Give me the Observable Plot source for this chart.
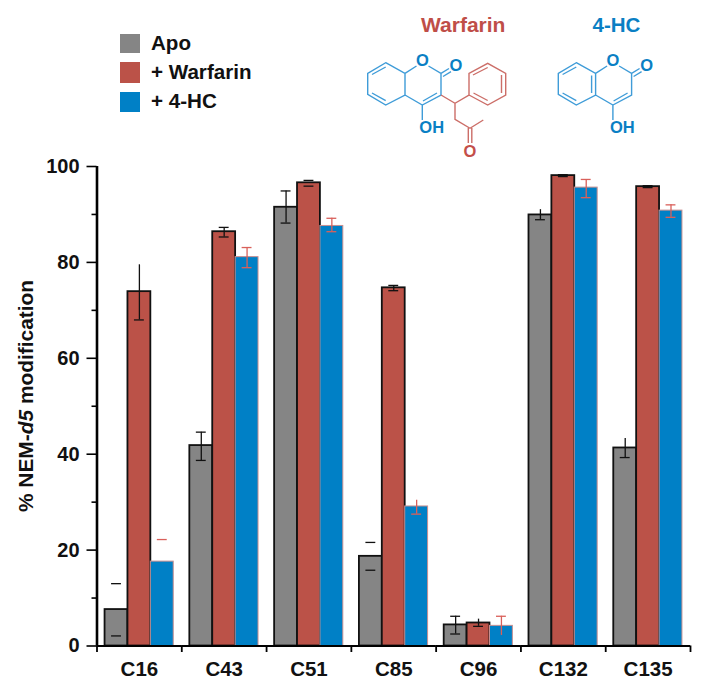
<!DOCTYPE html>
<html>
<head>
<meta charset="utf-8">
<script src="https://cdn.jsdelivr.net/npm/d3@7"></script>
<script src="https://cdn.jsdelivr.net/npm/@observablehq/plot@0.6"></script>
<style>
html,body{margin:0;padding:0;background:#fff;}
#wrap{position:relative;width:708px;height:693px;overflow:hidden;font-family:"Liberation Sans",Arial,sans-serif;font-weight:bold;}
#wrap>svg{display:block;}
.lab{position:absolute;white-space:nowrap;line-height:1;}
.sw{position:absolute;left:120px;width:20px;}
#ytitle{position:absolute;left:26px;top:396px;transform:translate(-50%,-50%) rotate(-90deg);font-size:20.9px;white-space:nowrap;color:#111;}
#chem{position:absolute;left:0;top:0;}
</style>
</head>
<body>
<div id="wrap"></div>
<script>
const sites = ["C16","C43","C51","C85","C96","C132","C135"];
const seriesNames = ["Apo","+ Warfarin","+ 4-HC"];
const seriesColors = ["#858585","#bb5248","#0080c6"];

const apo      = [7.6,41.8,91.5,18.7,4.4,89.9,41.3];
const warfarin = [73.9,86.4,96.6,74.7,4.8,98.1,95.8];
const hc       = [17.6,81.1,87.6,29.1,4.2,95.6,90.8];

const apoHi = [13,44.6,94.9,21.6,6.2,91,43.3];
const apoLo = [2.1,38.7,88.2,15.8,2.5,88.9,39.3];
const warfarinHi = [79.5,87.3,97.1,75.2,5.6,98.3,96];
const warfarinLo = [68,85.3,95.9,74.1,4.1,97.9,95.6];
const hcHi = [22.2,83.1,89.2,30.4,6.2,97.3,92];
const hcLo = [17.6,78.9,86.4,27.5,2.2,93.5,89.4];

// parts of the error bars that the reference does not show
const noStem = ["C16/Apo","C16/+ 4-HC","C85/Apo","C51/+ Warfarin"];
const noHiCap = ["C16/+ Warfarin","C85/+ 4-HC","C96/+ Warfarin","C132/Apo","C135/Apo"];
const noLoCap = ["C16/+ 4-HC","C96/+ 4-HC"];

const rows = [];
[[apo,apoHi,apoLo],[warfarin,warfarinHi,warfarinLo],[hc,hcHi,hcLo]].forEach((s,k)=>{
  sites.forEach((site,i)=>rows.push({site,series:seriesNames[k],value:s[0][i],hi:s[1][i],lo:s[2][i],key:site+"/"+seriesNames[k]}));
});
const errColor = d => d.series==="+ 4-HC" ? "#d9605a" : "#111";

const FW = 84.786;
const outer = 8.05;        // gap from the frame edge to the first group
const barW = 22.9;         // one third of a group's width
const chart = Plot.plot({
  width:708, height:693,
  marginTop:166, marginBottom:47.5, marginLeft:96.5, marginRight:18,
  style:{fontFamily:'"Liberation Sans",Arial,sans-serif',fontWeight:"bold",color:"#111",background:"#fff"},
  fx:{domain:sites,paddingInner:0.19,paddingOuter:0.095,round:false,axis:null},
  x:{domain:seriesNames,padding:0,round:false,axis:null},
  y:{domain:[0,100],axis:null},
  color:{domain:seriesNames,range:seriesColors},
  marks:[
    Plot.barY(rows,{fx:"site",x:"series",y:"value",fill:"series",
      stroke:d=>d.series==="+ 4-HC"?"#c98f90":"#111",
      strokeWidth:d=>d.series==="+ 4-HC"?1:1.8}),
    Plot.ruleX(rows.filter(d=>!noStem.includes(d.key)),{fx:"site",x:"series",y1:"lo",y2:"hi",stroke:errColor,strokeWidth:1.3}),
    Plot.tickY(rows.filter(d=>!noHiCap.includes(d.key)),{fx:"site",x:"series",y:"hi",stroke:errColor,strokeWidth:1.3,insetLeft:6.5,insetRight:6.5}),
    Plot.tickY(rows.filter(d=>!noLoCap.includes(d.key)),{fx:"site",x:"series",y:"lo",stroke:errColor,strokeWidth:1.3,insetLeft:6.5,insetRight:6.5}),
    // axis lines
    Plot.ruleX(["Apo"],{fx:()=>"C16",x:d=>d,y1:0,y2:100,dx:-(outer+barW/2),stroke:"#000",strokeWidth:2.6}),
    Plot.ruleY(sites,{fx:d=>d,y:()=>0,insetLeft:-outer-0.1,insetRight:-outer-0.1,stroke:"#000",strokeWidth:2}),
    Plot.axisY({anchor:"left",ticks:[0,20,40,60,80,100],tickSize:10,tickPadding:7.5,dx:-outer,strokeWidth:1.6,stroke:"#000",fontSize:20,label:null,tickFormat:d=>d}),
    Plot.axisY({anchor:"left",ticks:[10,30,50,70,90],tickSize:5,dx:-outer,strokeWidth:1.6,stroke:"#000",text:null,label:null}),
    Plot.axisFx({anchor:"bottom",tickSize:0,tickPadding:15,fontSize:20.5,label:null}),
    Plot.axisFx({anchor:"bottom",tickSize:6.5,text:null,label:null,dx:FW/2,strokeWidth:1.8,stroke:"#000"}),
    Plot.axisFx({anchor:"bottom",tickSize:6.5,text:null,label:null,dx:-FW/2,ticks:["C16"],strokeWidth:1.8,stroke:"#000"})
  ]
});
const wrap = document.getElementById("wrap");
wrap.appendChild(chart);

function addLabel(text,left,baseline,size,color){
  const e=document.createElement("div");
  e.className="lab"; e.textContent=text;
  e.style.cssText+=`left:${left}px;top:${baseline-size*0.905}px;font-size:${size}px;color:${color};`;
  e.style.lineHeight=size*1.149+"px";
  wrap.appendChild(e);
}
const swatchTops=[[33.5,19.5],[62,21],[92,20]];
const legendBase=[50,79,108];
seriesNames.forEach((n,i)=>{
  const s=document.createElement("div");
  s.className="sw";
  s.style.top=swatchTops[i][0]+"px"; s.style.height=swatchTops[i][1]+"px"; s.style.background=seriesColors[i];
  wrap.appendChild(s);
  addLabel(n,151,legendBase[i],20.6,"#111");
});
addLabel("Warfarin",421,32,21,"#bf4e48");
addLabel("4-HC",592.5,32,20.5,"#0a7fc4");

const yt=document.createElement("div");
yt.id="ytitle"; yt.innerHTML='% NEM-<i>d5</i> modification';
wrap.appendChild(yt);

// chemical structure sketches
const blueBonds = "M385.7 62.7L405 73.3L405 95L385.7 105L367.7 94.3L367.7 73.3Z M372 74.5L385.7 67 M372 93L385.7 100.7 M405 73.3L416.5 66 M428.5 66L441 73.3L441 95L422.3 105L405 95 M437 93L423 101 M422.3 105L422.3 120 M441 73.3L449 68.5 M443 76.5L451 71.7";
const redBonds = "M441 95L455 103.3L469 95L469 73.3L487.7 63.3L505.7 73.3L505.7 95L487.7 105L469 95 M473 75L487.7 67.5 M501.5 75L501.5 93 M473.5 93L487.7 100.5 M455 103.3L455 119.3L470 128.3L483.3 120 M468.3 128L468.3 143 M471.8 128L471.8 143";
const hcBonds = "M385.7 62.7L405 73.3L405 95L385.7 105L367.7 94.3L367.7 73.3Z M372 74.5L385.7 67 M372 93L385.7 100.7 M401 75.5L401 93 M405 73.3L416.5 66 M428.5 66L441 73.3L441 95L422.3 105L405 95 M437 93L423 101 M422.3 105L422.3 120 M441 73.3L449 68.5 M443 76.5L451 71.7";
const ns="http://www.w3.org/2000/svg";
const chem=document.createElementNS(ns,"svg");
chem.setAttribute("id","chem"); chem.setAttribute("width",708); chem.setAttribute("height",693);
const mk=(tag,attrs,parent,txt)=>{const e=document.createElementNS(ns,tag);for(const k in attrs)e.setAttribute(k,attrs[k]);if(txt)e.textContent=txt;parent.appendChild(e);return e;};
const atoms=(g,col)=>{
  const f={fill:col,"font-size":16.5,"font-family":'"Liberation Sans",Arial,sans-serif',"text-anchor":"middle"};
  mk("text",{...f,x:422.3,y:66},g,"O");
  mk("text",{...f,x:456,y:70.5},g,"O");
  mk("text",{...f,x:431.7,y:133},g,"OH");
};
const g1=mk("g",{},chem);
mk("path",{d:blueBonds,fill:"none",stroke:"#3f9cd8","stroke-width":1.4},g1);
mk("path",{d:redBonds,fill:"none",stroke:"#cc6e68","stroke-width":1.4},g1);
atoms(g1,"#0a7fc4");
mk("text",{x:470,y:156.5,fill:"#c44f49","font-size":16.5,"font-family":'"Liberation Sans",Arial,sans-serif',"text-anchor":"middle"},g1,"O");
const g2=mk("g",{transform:"translate(190.6,0)"},chem);
mk("path",{d:hcBonds,fill:"none",stroke:"#3f9cd8","stroke-width":1.4},g2);
atoms(g2,"#0a7fc4");
wrap.appendChild(chem);
</script>
</body>
</html>
